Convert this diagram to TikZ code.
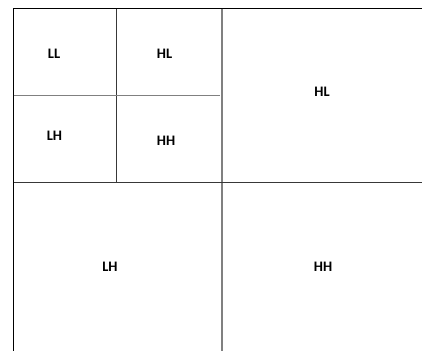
\documentclass[tikz,border=0pt]{standalone}
\usepackage{fontspec}
\setmainfont{Carlito}
\begin{document}
\begin{tikzpicture}[x=1pt,y=-1pt,
  lbl/.style={font=\fontsize{14.5}{16}\selectfont\bfseries, inner sep=0pt},
  darkline/.style={draw=black!78, line width=1pt},
  grayline/.style={draw=black!50, line width=1.6pt}]
\useasboundingbox (0,0) rectangle (422,351);
\fill[white] (0,0) rectangle (422,351);
% outer lines
\draw[draw=black, line width=1.3pt] (422,8.5) -- (13.5,8.5) -- (13.5,351);
\draw[grayline] (222,8.5) -- (222,351);
\draw[darkline] (13.5,182.5) -- (422,182.5);
\draw[darkline] (116.5,8.5) -- (116.5,182.5);
\draw[grayline] (13.5,95.5) -- (220,95.5);
% labels
\node[lbl] (ll) at (54,54) {LL};
\node[lbl] (hl1) at (164.5,54) {HL};
\node[lbl] (lh1) at (54.5,136) {LH};
\node[lbl] (hh1) at (166,141) {HH};
\node[lbl] (hl) at (322,92) {HL};
\node[lbl] (lh) at (110,267) {LH};
\node[lbl] (hh) at (323,267) {HH};
\end{tikzpicture}
\end{document}
